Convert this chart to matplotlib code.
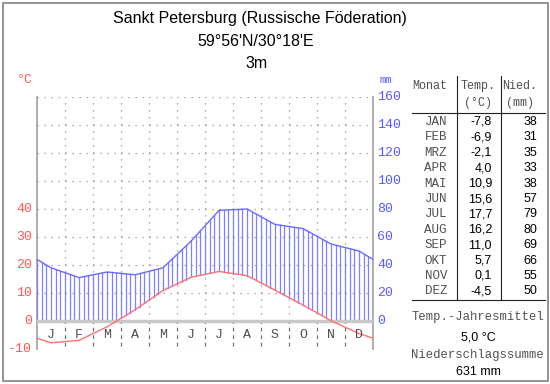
import matplotlib
matplotlib.use("Agg")
import matplotlib.pyplot as plt
from matplotlib.patches import Rectangle
import numpy as np

# climate data, Sankt Petersburg
months_short = ["J", "F", "M", "A", "M", "J", "J", "A", "S", "O", "N", "D"]
months_table = ["JAN", "FEB", "MRZ", "APR", "MAI", "JUN", "JUL", "AUG", "SEP", "OKT", "NOV", "DEZ"]
temp = [-7.8, -6.9, -2.1, 4.0, 10.9, 15.6, 17.7, 16.2, 11.0, 5.7, 0.1, -4.5]
precip = [38, 31, 35, 33, 38, 57, 79, 80, 69, 66, 55, 50]
temp_ticks = [-10, 0, 10, 20, 30, 40]
precip_ticks = [0, 20, 40, 60, 80, 100, 120, 140, 160]

W, H = 550, 384
RED = "#ff5a5a"
BLUE = "#5a5aff"
GRID = "#909090"
TXT = "#505050"
MONO = "Liberation Mono"
SANS = "Liberation Sans"


def fx(x):
    return x / W


def fy(y):
    return 1 - y / H


def wrap_curve(vals):
    # month midpoints plus the two year edges (mean of Dec/Jan)
    edge = (vals[0] + vals[-1]) / 2
    xs = np.concatenate([[0], np.arange(12) + 0.5, [12]])
    ys = np.concatenate([[edge], vals, [edge]])
    return xs, ys


fig = plt.figure(figsize=(W / 100, H / 100), dpi=100)
ax = fig.add_axes([fx(37), fy(349), fx(373) - fx(37), fy(97) - fy(349)])
ax.set_xlim(0, 12)
ax.set_ylim(-10, 80)
ax.axis("off")

# grid
for yv in range(-10, 81, 10):
    ax.plot([0, 12], [yv, yv], color=GRID, lw=0.9, ls=(0, (1, 4.6)), zorder=1)
for m in range(1, 12):
    ax.plot([m, m], [0, 80], color=GRID, lw=0.9, ls=(0, (1, 4.6)), zorder=1)
    ax.plot([m, m], [-9, 0], color="#707070", lw=0.9, ls=(0, (3, 3)), zorder=1)

# axes lines
ax.plot([0, 0], [-10, 80], color="#a0a0a0", lw=1.2, zorder=2, clip_on=False)
ax.plot([12, 12], [-10, 80], color="#a0a0a0", lw=1.2, zorder=2, clip_on=False)

tx, ty = wrap_curve(np.array(temp))
px, py = wrap_curve(np.array(precip) / 2.0)

# humid period hatching
hx = np.linspace(0, 12, 73)
ht = np.interp(hx, tx, ty)
hp = np.interp(hx, px, py)
for xv, t, p in zip(hx, ht, hp):
    lo = max(t, 0)
    if p > lo:
        ax.plot([xv, xv], [lo, p], color="#8080ff", lw=0.9, zorder=3)

ax.plot([0, 12], [0, 0], color="#c8c8c8", lw=2.5, zorder=4)
ax.plot(px, py, color="#6a6aff", lw=1.0, zorder=5)
ax.plot(tx, ty, color="#ff7070", lw=1.0, zorder=5)

for i, m in enumerate(months_short):
    ax.text(i + 0.5, -5, m, ha="center", va="center", fontsize=9.5,
            family=MONO, color=TXT, zorder=6)

for t in temp_ticks:
    ax.text(-0.18, t, str(t), ha="right", va="center", fontsize=9.5,
            family=MONO, color=RED, clip_on=False)
for p in precip_ticks:
    ax.text(12.15, p / 2, str(p), ha="left", va="center", fontsize=9.5,
            family=MONO, color=BLUE, clip_on=False)

fig.text(fx(25), fy(80), "°C", ha="center", va="center", fontsize=9.5,
         family=MONO, color=RED)
fig.text(fx(386), fy(80), "mm", ha="center", va="center", fontsize=7.5,
         family=MONO, color=BLUE)

# title
fig.text(fx(260), fy(19), "Sankt Petersburg (Russische Föderation)",
         ha="center", va="center", fontsize=11.5, family=SANS)
fig.text(fx(256), fy(42), "59°56'N/30°18'E", ha="center", va="center",
         fontsize=11.5, family=SANS)
fig.text(fx(257), fy(63), "3m", ha="center", va="center", fontsize=11.5,
         family=SANS)

# table header
fig.text(fx(430), fy(86), "Monat", ha="center", va="center", fontsize=8.5,
         family=MONO, color=TXT)
fig.text(fx(478), fy(86), "Temp.", ha="center", va="center", fontsize=8.5,
         family=MONO, color=TXT)
fig.text(fx(478), fy(103), "(°C)", ha="center", va="center", fontsize=8.5,
         family=MONO, color=TXT)
fig.text(fx(520), fy(86), "Nied.", ha="center", va="center", fontsize=8.5,
         family=MONO, color=TXT)
fig.text(fx(520), fy(103), "(mm)", ha="center", va="center", fontsize=8.5,
         family=MONO, color=TXT)

for x in [457, 501]:
    fig.add_artist(plt.Line2D([fx(x), fx(x)], [fy(76), fy(300)], color="#202020", lw=0.8))
for y in [113, 300]:
    fig.add_artist(plt.Line2D([fx(412), fx(545)], [fy(y), fy(y)], color="#202020", lw=0.8))

for i, (mn, t, p) in enumerate(zip(months_table, temp, precip)):
    y = 122 + i * 15.4
    fig.text(fx(447), fy(y), mn, ha="right", va="center", fontsize=9,
             family=MONO, color=TXT)
    fig.text(fx(492), fy(y), f"{t:.1f}".replace(".", ","), ha="right",
             va="center", fontsize=9, family=SANS)
    fig.text(fx(537), fy(y), str(p), ha="right", va="center", fontsize=9,
             family=SANS)

fig.text(fx(478), fy(317), "Temp.-Jahresmittel", ha="center", va="center",
         fontsize=8.8, family=MONO, color=TXT)
fig.text(fx(478), fy(337), f"{np.mean(temp):.1f} °C".replace(".", ","),
         ha="center", va="center", fontsize=9, family=SANS)
fig.text(fx(477), fy(355), "Niederschlagssumme", ha="center", va="center",
         fontsize=8.8, family=MONO, color=TXT)
fig.text(fx(478), fy(372), f"{sum(precip)} mm", ha="center", va="center",
         fontsize=9, family=SANS)

# outer frame
fig.add_artist(Rectangle((fx(2.5), fy(380.5)), fx(545), fy(2.5) - fy(380.5),
                         fill=False, edgecolor="#808080", lw=1.2))

fig.savefig("out.png", dpi=100)
